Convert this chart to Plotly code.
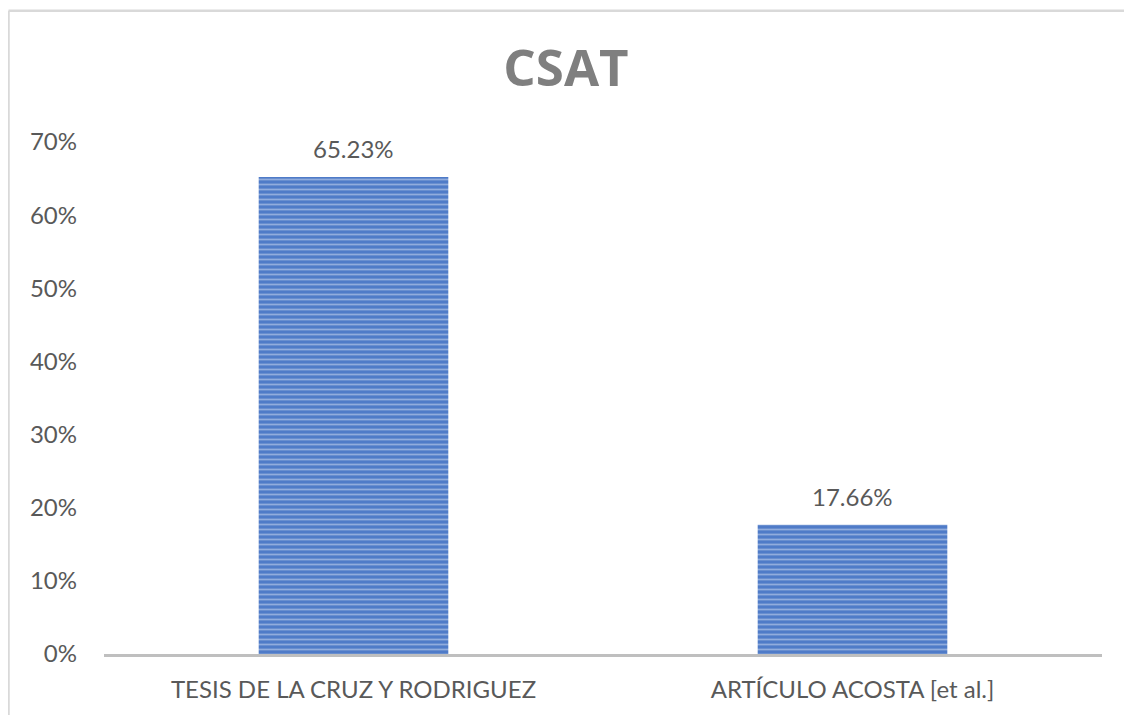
import plotly.graph_objects as go

categories = ["TESIS DE LA CRUZ Y RODRIGUEZ", "ARTÍCULO ACOSTA [et al.]"]
values = [0.6523, 0.1766]
value_labels = ["65.23%", "17.66%"]
y_ticks = [0, 0.1, 0.2, 0.3, 0.4, 0.5, 0.6, 0.7]
y_tick_labels = ["0%", "10%", "20%", "30%", "40%", "50%", "60%", "70%"]

W, H = 1116, 707
L, R, T, B = 96, 22, 134, 56
pw, ph = W - L - R, H - T - B

fig = go.Figure()
fig.add_trace(go.Bar(
    x=categories,
    y=values,
    marker=dict(
        color="#4F7BC8",
        line=dict(width=0),
        pattern=dict(shape="-", fgcolor="#D3DEF2", bgcolor="#4F7BC8", size=5, solidity=0.35),
    ),
    hoverinfo="skip",
))

for c, v, t in zip(categories, values, value_labels):
    fig.add_annotation(x=c, y=v, text=t, showarrow=False, yanchor="bottom", yshift=12,
                       font=dict(family="Lato", size=24, color="#595959"))

# chart border (top and left visible)
bx = (0.5 - L) / pw
by = (H - 1.5 - B) / ph
fig.add_shape(type="line", xref="paper", yref="paper", x0=bx, x1=bx, y0=-0.2, y1=by,
              line=dict(color="#D9D9D9", width=2.5))
fig.add_shape(type="line", xref="paper", yref="paper", x0=bx, x1=1.2, y0=by, y1=by,
              line=dict(color="#D9D9D9", width=2.5))

fig.update_layout(
    width=W, height=H,
    margin=dict(l=L, r=R, t=T, b=B),
    paper_bgcolor="white", plot_bgcolor="white",
    showlegend=False,
    bargap=0.62,
    title=dict(text="<b>CSAT</b>", x=(566 - 8) / W, xanchor="center", y=1 - 60 / H, yanchor="middle",
               font=dict(family="Open Sans", size=51, color="#7F7F7F")),
    xaxis=dict(showgrid=False, showline=True, linecolor="#BFBFBF", linewidth=2.5, ticks="",
               tickfont=dict(family="Lato", size=24, color="#595959"), ticklabelstandoff=12),
    yaxis=dict(range=[0, 0.7], tickvals=y_ticks, ticktext=y_tick_labels, showgrid=False,
               zeroline=False, showline=False, ticks="",
               tickfont=dict(family="Lato", size=24, color="#595959"), ticklabelstandoff=26),
)

fig.write_html("out.html")
